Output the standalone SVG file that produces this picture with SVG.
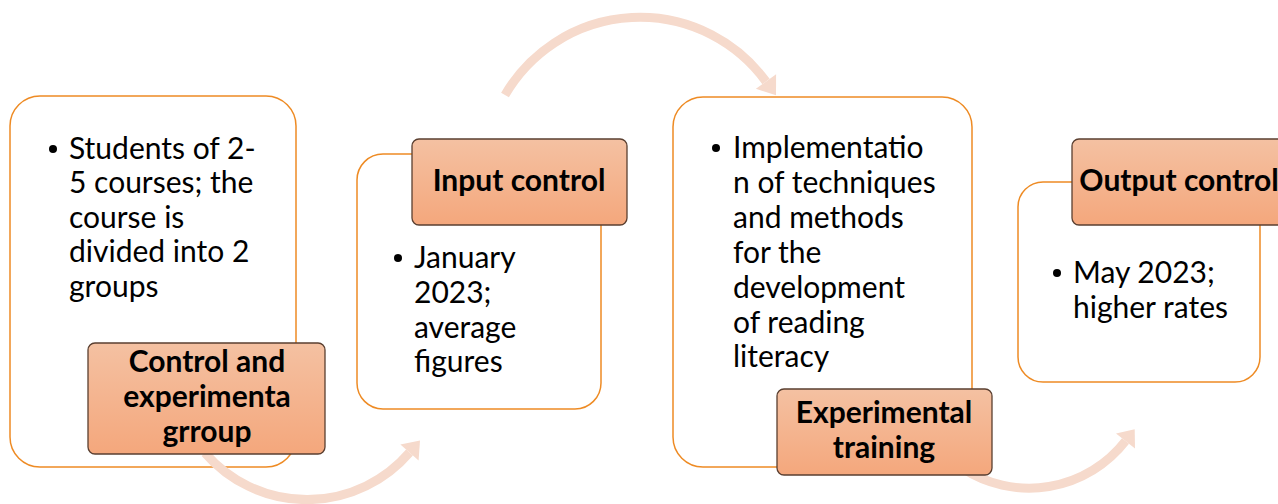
<svg xmlns="http://www.w3.org/2000/svg" width="1278" height="504" viewBox="0 0 1278 504">
<style>
.box{fill:#ffffff;stroke:#EE8B24;stroke-width:1.5}
.lab{fill:url(#g);stroke:#5A3F30;stroke-width:1.3}
.arc{fill:none;stroke:#F6DACC;stroke-width:9}
.head{fill:#F6DACC}
.t{font-family:Lato,"Liberation Sans",sans-serif;font-size:30px;fill:#000}
.b{font-family:Lato,"Liberation Sans",sans-serif;font-size:30px;font-weight:bold;fill:#000;text-anchor:middle}
</style>
<defs>
<linearGradient id="g" x1="0" y1="0" x2="0" y2="1">
<stop offset="0" stop-color="#F4C1A2"/>
<stop offset="1" stop-color="#F4A77C"/>
</linearGradient>
</defs>
<rect width="1278" height="504" fill="#ffffff"/>
<g id="box1">
<rect class="box" x="10" y="96" width="286" height="371" rx="30"/>
<circle cx="53" cy="149" r="4"/>
<text class="t" x="69" y="159">Students of 2-</text>
<text class="t" x="69" y="193">5 courses; the</text>
<text class="t" x="69" y="228">course is</text>
<text class="t" x="69" y="262">divided into 2</text>
<text class="t" x="69" y="297">groups</text>
</g>
<g id="box2">
<rect class="box" x="357" y="154" width="244" height="255" rx="26"/>
<circle cx="398" cy="258" r="4"/>
<text class="t" x="414" y="268">January</text>
<text class="t" x="414" y="303">2023;</text>
<text class="t" x="414" y="338">average</text>
<text class="t" x="414" y="372">figures</text>
</g>
<g id="box3">
<rect class="box" x="673" y="97" width="299" height="370" rx="30"/>
<circle cx="716" cy="148" r="4"/>
<text class="t" x="733" y="158">Implementatio</text>
<text class="t" x="733" y="193">n of techniques</text>
<text class="t" x="733" y="228">and methods</text>
<text class="t" x="733" y="263">for the</text>
<text class="t" x="733" y="298">development</text>
<text class="t" x="733" y="333">of reading</text>
<text class="t" x="733" y="367">literacy</text>
</g>
<g id="box4">
<rect class="box" x="1018" y="182" width="242" height="200" rx="25"/>
<circle cx="1057" cy="273" r="4"/>
<text class="t" x="1073" y="283">May 2023;</text>
<text class="t" x="1073" y="318">higher rates</text>
</g>
<g id="connectors">
<path class="arc" d="M 205 453 A 135 135 0 0 0 409.5 452.5"/>
<polygon class="head" points="420,440.4 418.6,460.4 400.4,444.6"/>
<path class="arc" stroke-width="10" d="M 505 95 A 156 156 0 0 1 766 81.5"/>
<polygon class="head" points="776,95.3 776.1,74.2 755.9,88.8"/>
<path class="arc" d="M 962 468 A 122 122 0 0 0 1125.5 441"/>
<polygon class="head" points="1134.7,429.2 1135,448.4 1116,433.6"/>
</g>
<g id="label1">
<rect class="lab" x="88" y="343" width="237" height="111" rx="7"/>
<text class="b" x="207" y="372">Control and</text>
<text class="b" x="207" y="407">experimenta</text>
<text class="b" x="207" y="442">grroup</text>
</g>
<g id="label2">
<rect class="lab" x="412" y="139" width="215" height="86" rx="7"/>
<text class="b" x="519" y="191">Input control</text>
</g>
<g id="label3">
<rect class="lab" x="777" y="389" width="215" height="86" rx="7"/>
<text class="b" x="884" y="423">Experimental</text>
<text class="b" x="884" y="458">training</text>
</g>
<g id="label4">
<rect class="lab" x="1072" y="139" width="215" height="86" rx="7"/>
<text class="b" x="1179" y="191">Output control</text>
</g>
</svg>
